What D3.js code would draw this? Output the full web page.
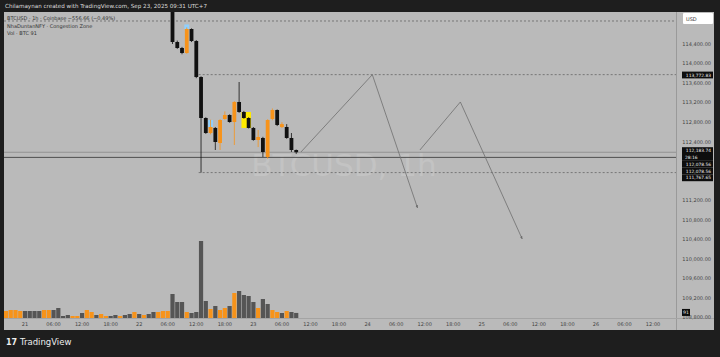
<!DOCTYPE html>
<html lang="en">
<head>
  <meta charset="UTF-8">
  <title>BTCUSD 1h - Congestion Zone</title>
  <script src="https://d3js.org/d3.v7.min.js"></script>
  <style>
    body { margin: 0; background: #1e1e1e; overflow: hidden; }
    svg { display: block; }
    svg text { font-family: "DejaVu Sans", "Liberation Sans", sans-serif; }
  </style>
</head>
<body>
<svg width="720" height="357"></svg>
<script>
// ---- data ----
const candleTimes = [
  "2025-09-22T07:00", "2025-09-22T08:00", "2025-09-22T09:00", "2025-09-22T10:00",
  "2025-09-22T11:00", "2025-09-22T12:00", "2025-09-22T13:00", "2025-09-22T14:00",
  "2025-09-22T15:00", "2025-09-22T16:00", "2025-09-22T17:00", "2025-09-22T18:00",
  "2025-09-22T19:00", "2025-09-22T20:00", "2025-09-22T21:00", "2025-09-22T22:00",
  "2025-09-22T23:00", "2025-09-23T00:00", "2025-09-23T01:00", "2025-09-23T02:00",
  "2025-09-23T03:00", "2025-09-23T04:00", "2025-09-23T05:00", "2025-09-23T06:00",
  "2025-09-23T07:00", "2025-09-23T08:00", "2025-09-23T09:00"
];
const opens  = [115200, 114441, 114318, 114216, 114707, 114461, 113724, 112885, 112578, 112681, 112373, 112865, 112947, 112803, 113213, 113008, 112885, 112681, 112435, 112476, 112087, 112865, 113049, 112700, 112701, 112476, 112230];
const highs  = [115300, 114470, 114340, 114740, 114720, 114480, 113740, 112900, 112850, 112700, 112860, 113020, 112960, 113230, 113622, 113030, 112900, 112700, 112640, 112500, 112860, 113080, 113060, 112800, 112760, 112578, 112240];
const lows   = [114400, 114300, 114190, 114200, 114440, 113700, 111767, 112560, 112550, 112230, 112230, 112850, 112790, 112333, 112990, 112870, 112670, 112420, 112290, 112087, 112050, 112840, 112720, 112680, 112460, 112190, 112150];
const closes = [114441, 114318, 114216, 114707, 114461, 113724, 112885, 112578, 112701, 112394, 112844, 112947, 112803, 113213, 113008, 112885, 112681, 112435, 112496, 112189, 112844, 113049, 112742, 112760, 112476, 112230, 112184];

// hourly volume (BTC) from 2025-09-20 20:00 to 2025-09-23 09:00
const volumeStart = "2025-09-20T20:00";
const volumes = [126, 144, 144, 126, 126, 126, 126, 126, 144, 144, 144, 180, 36, 54, 36, 36, 90, 144, 108, 54, 72, 36, 36, 54, 36, 54, 72, 108, 72, 54,
                 72, 108, 108, 126, 126, 432, 288, 288, 108, 90, 108, 1386, 306, 162, 216, 144, 180, 216, 450, 486, 414, 396, 288, 180, 342, 252, 144, 108, 90, 126, 108, 91];
const volumeUp = "uuuudddduudddduuduuduudduddudud" + "duuudddudddduduududdddudduududdd";

// congestion zone highlights
const zoneStart = ["2025-09-22T10:00", "2025-09-22T15:00", "2025-09-22T22:00"];
const zoneEnd   = ["2025-09-22T10:00", "2025-09-22T15:00", "2025-09-22T23:00"];
const zoneHigh  = [114800, 112844, 113008];
const zoneLow   = [114707, 112701, 112681];
const zoneColor = ["#8fd0ff", "#8fd0ff", "#ffea00"];

// projected path (two zig-zags)
const pathTimes1  = ["2025-09-23T10:00", "2025-09-24T01:00", "2025-09-24T10:30"];
const pathPrices1 = [112189, 113772, 111043];
const pathTimes2  = ["2025-09-24T11:00", "2025-09-24T19:30", "2025-09-25T08:30"];
const pathPrices2 = [112230, 113213, 110408];

// horizontal levels
const levelPrices = [114871, 113772.83, 111767.65];
const levelStart  = [null, "2025-09-22T12:30", "2025-09-22T12:30"];
const lastPrice = 112183.74;
const markPrice = 112078.56;

// right-axis label boxes
const axisBoxes = ["113,772.83", "112,183.74", "28:16", "112,078.56", "112,078.56", "111,767.65"];
const axisBoxY  = [75, 150.6, 157.4, 164.2, 171, 177.8];

const priceTicks = d3.range(108800, 114401, 400);

// ---- layout ----
const W = 720, H = 357;
const plot = { left: 4, right: 676, top: 12, bottom: 318 };
const axisRight = 714, axisBottom = 330;

const svg = d3.select("svg");
const parse = d3.utcParse("%Y-%m-%dT%H:%M");

// time scale: 1 hour ~ 4.758px, 21 Sep 00:00 at x = 25
const t0 = parse("2025-09-21T00:00");
const hourPx = 4.758;
const x = d3.scaleUtc()
  .domain([new Date(+t0 - (25 - plot.left) / hourPx * 3600e3), new Date(+t0 + (plot.right - 25) / hourPx * 3600e3)])
  .range([plot.left, plot.right]);

// price scale
const y = d3.scaleLinear()
  .domain([114400 - (plot.bottom - 44) / 0.04885, 114400 + (44 - plot.top) / 0.04885])
  .range([plot.bottom, plot.top]);

// volume scale (18 BTC per px)
const yVol = d3.scaleLinear().domain([0, 1800]).range([plot.bottom, plot.bottom - 100]);

const ORANGE = "#f7931a", BLACK = "#111", VOLDARK = "#555";

// backgrounds
svg.append("rect").attr("width", W).attr("height", H).attr("fill", "#1e1e1e");
svg.append("rect").attr("x", plot.left).attr("y", plot.top)
  .attr("width", axisRight - plot.left).attr("height", axisBottom - plot.top).attr("fill", "#bababa");

svg.append("clipPath").attr("id", "clip").append("rect")
  .attr("x", plot.left).attr("y", plot.top)
  .attr("width", plot.right - plot.left).attr("height", plot.bottom - plot.top);

const g = svg.append("g").attr("clip-path", "url(#clip)");

// watermark
g.append("text").attr("x", 344).attr("y", 176).attr("text-anchor", "middle")
  .attr("font-size", 31).attr("fill", "#c3c3c3").text("BTCUSD, 1h");

// volume bars
const vStart = parse(volumeStart);
const volData = volumes.map((v, i) => ({ t: d3.utcHour.offset(vStart, i), v, up: volumeUp[i] === "u" }));
g.selectAll("rect.vol").data(volData).enter().append("rect")
  .attr("class", "vol")
  .attr("x", d => x(d.t) - 2.1).attr("width", 4.2)
  .attr("y", d => yVol(d.v)).attr("height", d => plot.bottom - yVol(d.v))
  .attr("fill", d => d.up ? ORANGE : VOLDARK);

// level lines
levelPrices.forEach((p, i) => {
  g.append("line")
    .attr("x1", levelStart[i] ? x(parse(levelStart[i])) : plot.left).attr("x2", plot.right)
    .attr("y1", y(p)).attr("y2", y(p))
    .attr("stroke", "#666").attr("stroke-width", 0.8).attr("stroke-dasharray", "2,2");
});
g.append("line").attr("x1", plot.left).attr("x2", plot.right)
  .attr("y1", y(lastPrice)).attr("y2", y(lastPrice))
  .attr("stroke", "#8a8a8a").attr("stroke-width", 0.8);
g.append("line").attr("x1", plot.left).attr("x2", plot.right)
  .attr("y1", y(markPrice)).attr("y2", y(markPrice))
  .attr("stroke", "#444").attr("stroke-width", 0.9);

// congestion zones
zoneStart.forEach((s, i) => {
  const xs = x(parse(s)) - 2.4, xe = x(parse(zoneEnd[i])) + 2.4;
  g.append("rect").attr("x", xs).attr("width", xe - xs)
    .attr("y", y(zoneHigh[i])).attr("height", y(zoneLow[i]) - y(zoneHigh[i]))
    .attr("fill", zoneColor[i]);
});

// candles
const candles = candleTimes.map((t, i) => ({
  t: parse(t), o: opens[i], h: highs[i], l: lows[i], c: closes[i]
}));
const cg = g.selectAll("g.candle").data(candles).enter().append("g").attr("class", "candle");
cg.append("line")
  .attr("x1", d => x(d.t)).attr("x2", d => x(d.t))
  .attr("y1", d => y(d.h)).attr("y2", d => y(d.l))
  .attr("stroke", d => d.c >= d.o ? ORANGE : BLACK).attr("stroke-width", 0.8);
cg.append("rect")
  .attr("x", d => x(d.t) - 1.9).attr("width", 3.8)
  .attr("y", d => y(Math.max(d.o, d.c)))
  .attr("height", d => Math.max(1, Math.abs(y(d.o) - y(d.c))))
  .attr("fill", d => d.c >= d.o ? ORANGE : BLACK);

// projected zig-zag paths with arrow heads
svg.append("defs").append("marker").attr("id", "arr")
  .attr("viewBox", "0 0 10 10").attr("refX", 9).attr("refY", 5)
  .attr("markerWidth", 4).attr("markerHeight", 4).attr("orient", "auto")
  .append("path").attr("d", "M0,1L10,5L0,9z").attr("fill", "#6a6a6a");
const line = d3.line().x(d => x(parse(d[0]))).y(d => y(d[1]));
[[pathTimes1, pathPrices1], [pathTimes2, pathPrices2]].forEach(([ts, ps]) => {
  g.append("path").attr("d", line(ts.map((t, i) => [t, ps[i]])))
    .attr("fill", "none").attr("stroke", "#6f6f6f").attr("stroke-width", 0.8)
    .attr("marker-end", "url(#arr)");
});

// axis separators
svg.append("line").attr("x1", plot.right + 0.5).attr("x2", plot.right + 0.5)
  .attr("y1", plot.top).attr("y2", axisBottom).attr("stroke", "#9a9a9a");
svg.append("line").attr("x1", plot.left).attr("x2", axisRight)
  .attr("y1", plot.bottom + 0.5).attr("y2", plot.bottom + 0.5).attr("stroke", "#a4a4a4");

// price axis (ticks hidden under label boxes are skipped, as on the chart)
const fmt = d3.format(",.2f");
const visibleTicks = priceTicks.filter(p => !axisBoxY.some(by => Math.abs(y(p) - by) < 6.5));
const pa = svg.append("g").attr("font-size", 5).attr("fill", "#444");
pa.selectAll("text").data(visibleTicks).enter().append("text")
  .attr("x", 711).attr("y", d => y(d) + 1.8).attr("text-anchor", "end")
  .text(d => fmt(d));

// "USD" box
svg.append("rect").attr("x", 683).attr("y", 13).attr("width", 30).attr("height", 11).attr("fill", "#fff").attr("rx", 1);
svg.append("text").attr("x", 686).attr("y", 20.5).attr("font-size", 5).attr("fill", "#333").text("USD");

// label boxes on price axis
axisBoxes.forEach((txt, i) => {
  svg.append("rect").attr("x", 682).attr("y", axisBoxY[i] - 3.4).attr("width", 31).attr("height", 6.8).attr("fill", "#0d0d0d");
  svg.append("text").attr("x", txt.length < 6 ? 685 : 711).attr("y", axisBoxY[i] + 1.5)
    .attr("text-anchor", txt.length < 6 ? "start" : "end")
    .attr("font-size", 4.4).attr("fill", "#eee").text(txt);
});
// volume label
svg.append("rect").attr("x", 682).attr("y", yVol(91) - 4).attr("width", 8).attr("height", 7).attr("fill", "#0d0d0d");
svg.append("text").attr("x", 686).attr("y", yVol(91) + 1.5).attr("text-anchor", "middle")
  .attr("font-size", 4.6).attr("fill", "#eee").text("91");

// time axis
svg.append("clipPath").attr("id", "tclip").append("rect")
  .attr("x", plot.left).attr("y", plot.bottom).attr("width", 682 - plot.left).attr("height", 14);
const ticks = x.ticks(d3.utcHour.every(6));
svg.append("g").attr("clip-path", "url(#tclip)").attr("font-size", 5).attr("fill", "#444")
  .selectAll("text").data(ticks).enter().append("text")
  .attr("x", d => x(d)).attr("y", 326).attr("text-anchor", "middle")
  .text(d => d.getUTCHours() === 0 ? d3.utcFormat("%-d")(d) : d3.utcFormat("%H:%M")(d));

// header
svg.append("text").attr("x", 5).attr("y", 8).attr("font-size", 5.6).attr("fill", "#ddd")
  .text("Chilamaynan created with TradingView.com, Sep 23, 2025 09:31 UTC+7");

// legend
const legend = svg.append("g").attr("font-size", 5).attr("fill", "#333");
legend.append("text").attr("x", 7).attr("y", 20).text("BTCUSD · 1h · Coinbase   −556.66 (−0.49%)");
legend.append("text").attr("x", 7).attr("y", 27.5).text("NhaDuntanNFY · Congestion Zone");
legend.append("text").attr("x", 7).attr("y", 35).text("Vol · BTC   91");

// footer logo
svg.append("text").attr("x", 6).attr("y", 345).attr("font-size", 8).attr("font-weight", "bold")
  .attr("fill", "#eee").text("17");
svg.append("text").attr("x", 20).attr("y", 345).attr("font-size", 8.5).attr("fill", "#eee").text("TradingView");
</script>
</body>
</html>
